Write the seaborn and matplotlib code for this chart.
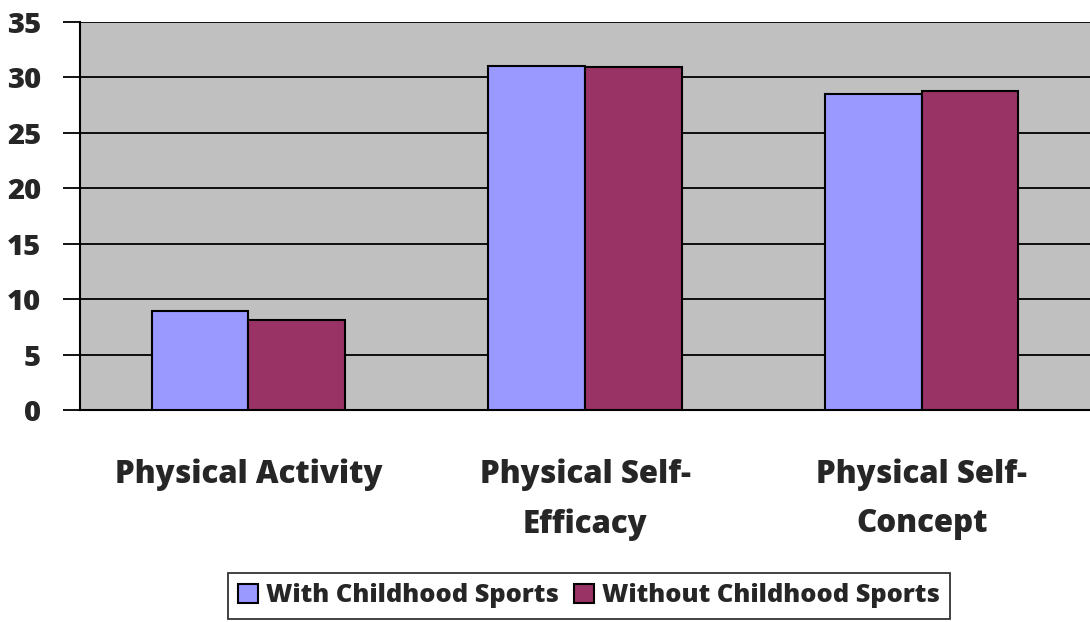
import matplotlib
matplotlib.use("Agg")
import matplotlib.pyplot as plt
import seaborn as sns
import pandas as pd

# data
categories = ["Physical Activity", "Physical Self-\nEfficacy", "Physical Self-\nConcept"]
with_sports = [8.9, 31.0, 28.5]
without_sports = [8.1, 30.9, 28.8]
series = ["With Childhood Sports", "Without Childhood Sports"]
y_ticks = [0, 5, 10, 15, 20, 25, 30, 35]

df = pd.DataFrame({
    "category": categories * 2,
    "value": with_sports + without_sports,
    "series": [series[0]] * 3 + [series[1]] * 3,
})

sns.set_style("white")
plt.rcParams["font.family"] = ["Open Sans", "DejaVu Sans"]
plt.rcParams["font.weight"] = "bold"

fig = plt.figure(figsize=(10.9, 6.22), dpi=100)
ax = fig.add_axes([0.0734, 0.3408, 0.9266, 0.6238])
ax.set_facecolor("#C0C0C0")

sns.barplot(data=df, x="category", y="value", hue="series",
            palette=["#9999FF", "#993366"], width=0.574,
            edgecolor="black", linewidth=1.5, saturation=1, ax=ax, zorder=3)

ax.set_ylim(0, 35)
ax.set_xlim(-0.5, 2.5)
ax.set_yticks(y_ticks)
ax.set_yticklabels([str(t) for t in y_ticks], fontsize=21, fontweight=800)
ax.yaxis.grid(True, color="black", linewidth=1.3, zorder=0)
ax.set_axisbelow(True)

# category labels centred, tick marks at category boundaries
ax.set_xticks(range(len(categories)))
ax.set_xticklabels(categories, fontsize=22.5, fontweight=800, linespacing=1.72)
ax.tick_params(axis="x", which="major", length=0, pad=35)
ax.set_xticks([-0.5, 0.5, 1.5, 2.5], minor=True)
ax.tick_params(axis="x", which="minor", length=12, width=1.3, color="black", direction="out")
ax.tick_params(axis="y", length=12, width=1.3, color="black", direction="out", left=True, pad=16)

ax.set_xlabel("")
ax.set_ylabel("")
for side in ["left", "bottom"]:
    ax.spines[side].set_color("black")
    ax.spines[side].set_linewidth(1.5)
ax.spines["right"].set_visible(False)
ax.spines["top"].set_visible(False)

leg = ax.legend(loc="center", bbox_to_anchor=(589 / 1090, 26 / 622),
                bbox_transform=fig.transFigure, ncol=2, frameon=True,
                fancybox=False, edgecolor="black",
                prop={"weight": 800, "size": 18.3},
                handlelength=0.8, handleheight=0.8, handletextpad=0.3,
                columnspacing=0.6, borderpad=0.4)
leg.get_frame().set_linewidth(1.3)

fig.savefig("out.png", dpi=100)
